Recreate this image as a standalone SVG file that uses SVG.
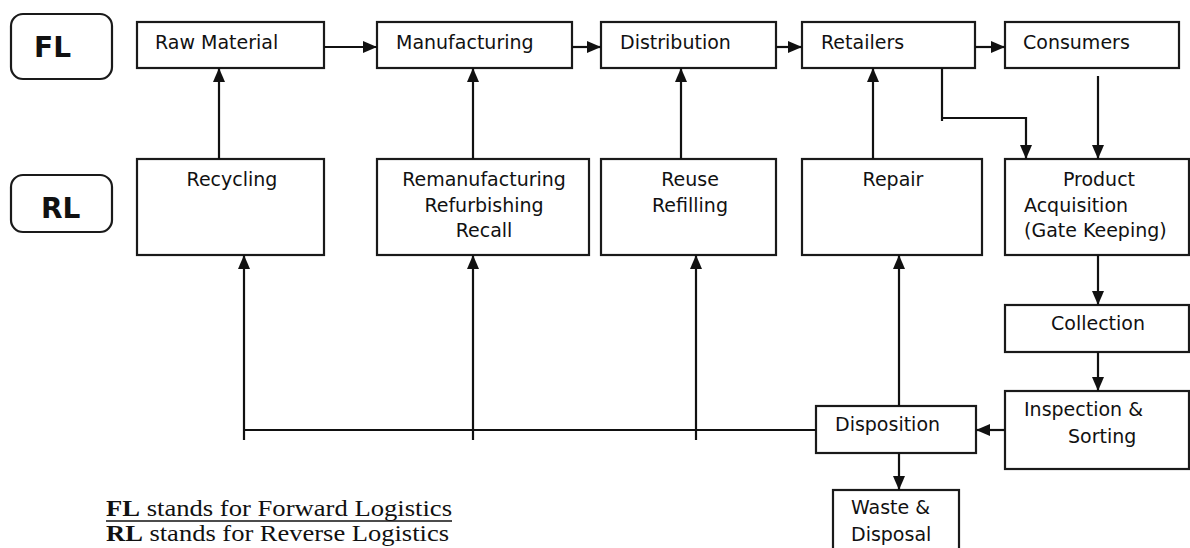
<svg xmlns="http://www.w3.org/2000/svg" width="1190" height="548" viewBox="0 0 1190 548">
<defs>
<style>
.box{fill:#fff;stroke:#1a1a1a;stroke-width:2.2}
.t{font-family:"DejaVu Sans",sans-serif;font-size:19px;fill:#111}
.c{text-anchor:middle}
.big{font-family:"DejaVu Sans",sans-serif;font-weight:bold;font-size:28px;fill:#111}
.con{fill:none;stroke:#111;stroke-width:2.2}
.leg{font-family:"Liberation Serif","Times New Roman",serif;font-size:24px;fill:#111}
</style>
<marker id="ah" viewBox="0 0 14 12" refX="14" refY="6" markerWidth="14" markerHeight="12" orient="auto" markerUnits="userSpaceOnUse">
<path d="M0,0 L14,6 L0,12 z" fill="#111"/>
</marker>
</defs>
<rect width="1190" height="548" fill="#fff"/>

<g id="fl-label">
<rect x="11" y="14" width="101" height="65" rx="12" ry="12" fill="#fff" stroke="#1a1a1a" stroke-width="2.2"/>
<text class="big" x="34" y="57">FL</text>
</g>
<g id="rl-label">
<rect x="11" y="175" width="101" height="57" rx="12" ry="12" fill="#fff" stroke="#1a1a1a" stroke-width="2.2"/>
<text class="big" x="41" y="218">RL</text>
</g>

<g id="raw-material"><rect class="box" x="137" y="22" width="187" height="46"/><text class="t" x="155" y="49">Raw Material</text></g>
<g id="manufacturing"><rect class="box" x="377" y="22" width="195" height="46"/><text class="t" x="396" y="49">Manufacturing</text></g>
<g id="distribution"><rect class="box" x="601" y="22" width="175" height="46"/><text class="t" x="620" y="49">Distribution</text></g>
<g id="retailers"><rect class="box" x="802" y="22" width="173" height="46"/><text class="t" x="821" y="49">Retailers</text></g>
<g id="consumers"><rect class="box" x="1005" y="22" width="174" height="46"/><text class="t" x="1023" y="49">Consumers</text></g>

<g id="recycling"><rect class="box" x="137" y="159" width="187" height="96"/><text class="t c" x="232" y="186">Recycling</text></g>
<g id="remanufacturing"><rect class="box" x="377" y="159" width="212" height="96"/>
<text class="t c" x="484" y="186">Remanufacturing</text><text class="t c" x="484" y="212">Refurbishing</text><text class="t c" x="484" y="237">Recall</text></g>
<g id="reuse"><rect class="box" x="601" y="159" width="175" height="96"/>
<text class="t c" x="690" y="186">Reuse</text><text class="t c" x="690" y="212">Refilling</text></g>
<g id="repair"><rect class="box" x="802" y="159" width="180" height="96"/><text class="t c" x="893" y="186">Repair</text></g>
<g id="product-acquisition"><rect class="box" x="1005" y="159" width="184" height="96"/>
<text class="t c" x="1099" y="186">Product</text><text class="t" x="1024" y="212">Acquisition</text><text class="t" x="1024" y="237">(Gate Keeping)</text></g>

<g id="collection"><rect class="box" x="1005" y="305" width="184" height="47"/><text class="t c" x="1098" y="330">Collection</text></g>
<g id="inspection"><rect class="box" x="1005" y="391" width="184" height="78"/>
<text class="t" x="1024" y="416">Inspection &amp;</text><text class="t" x="1068" y="443">Sorting</text></g>
<g id="disposition"><rect class="box" x="816" y="406" width="160" height="47"/><text class="t" x="835" y="431">Disposition</text></g>
<g id="waste"><rect class="box" x="833" y="490" width="126" height="70"/>
<text class="t" x="851" y="514">Waste &amp;</text><text class="t" x="851" y="541">Disposal</text></g>

<g id="connectors">
<path class="con" d="M324,47 H377" marker-end="url(#ah)"/>
<path class="con" d="M572,47 H601" marker-end="url(#ah)"/>
<path class="con" d="M776,47 H802" marker-end="url(#ah)"/>
<path class="con" d="M975,47 H1005" marker-end="url(#ah)"/>
<path class="con" d="M219,159 V68" marker-end="url(#ah)"/>
<path class="con" d="M473,159 V68" marker-end="url(#ah)"/>
<path class="con" d="M681,159 V68" marker-end="url(#ah)"/>
<path class="con" d="M873,159 V68" marker-end="url(#ah)"/>
<path class="con" d="M942,68 V121"/>
<path class="con" d="M942,118 H1026 V159" marker-end="url(#ah)"/>
<path class="con" d="M1098,76 V159" marker-end="url(#ah)"/>
<path class="con" d="M1098,255 V305" marker-end="url(#ah)"/>
<path class="con" d="M1098,352 V391" marker-end="url(#ah)"/>
<path class="con" d="M1005,430 H976" marker-end="url(#ah)"/>
<path class="con" d="M899,453 V490" marker-end="url(#ah)"/>
<path class="con" d="M899,406 V255" marker-end="url(#ah)"/>
<path class="con" d="M816,430 H244"/>
<path class="con" d="M244,440 V255" marker-end="url(#ah)"/>
<path class="con" d="M473,440 V255" marker-end="url(#ah)"/>
<path class="con" d="M696,440 V255" marker-end="url(#ah)"/>
</g>

<g id="legend">
<text class="leg" x="106" y="516" textLength="346" lengthAdjust="spacingAndGlyphs"><tspan font-weight="bold">FL</tspan> stands for Forward Logistics</text>
<line x1="106" y1="521" x2="452" y2="521" stroke="#111" stroke-width="1.6"/>
<text class="leg" x="106" y="541" textLength="343" lengthAdjust="spacingAndGlyphs"><tspan font-weight="bold">RL</tspan> stands for Reverse Logistics</text>
</g>
</svg>
